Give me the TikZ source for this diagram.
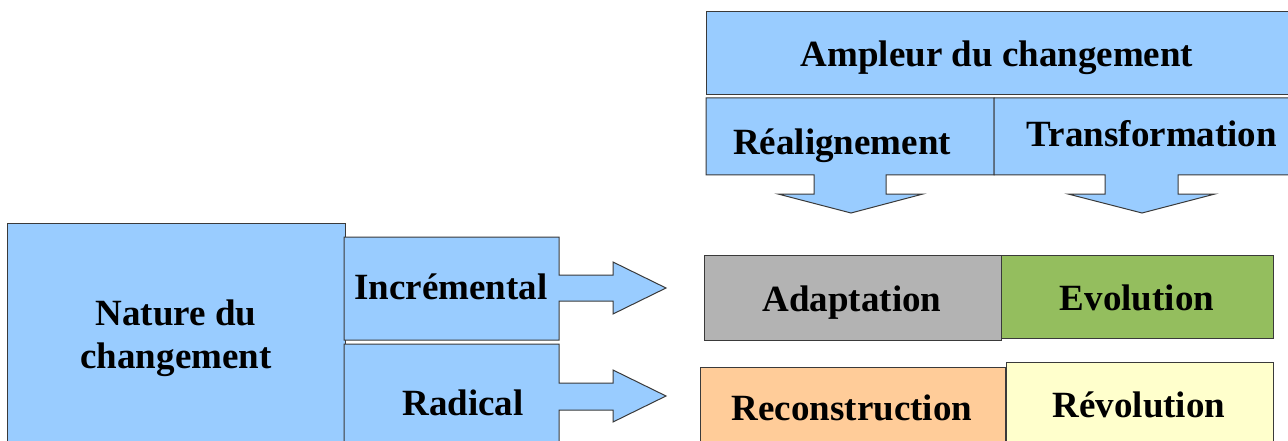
\documentclass[tikz,border=0pt]{standalone}
\usepackage{fontspec}
\setmainfont{Liberation Serif}
\definecolor{skyfill}{HTML}{99CCFF}
\definecolor{greyfill}{HTML}{B3B3B3}
\definecolor{greenfill}{HTML}{94BE5E}
\definecolor{orangefill}{HTML}{FFCC99}
\definecolor{yellowfill}{HTML}{FFFFCC}
\definecolor{edge}{HTML}{3A3A3A}
\begin{document}
\begin{tikzpicture}[x=1pt,y=-1pt,
  panel/.style={draw=edge,line width=1pt},
  label/.style={inner sep=0pt,anchor=base,font=\fontsize{37}{43}\selectfont\bfseries}]
\useasboundingbox (0,0) rectangle (1288,441);

% Nature du changement
\draw[panel,fill=skyfill] (7,223) rectangle (345,460);
\node[label] (natA) at (176,325) {Nature du};
\node[label] (natB) at (176,368) {changement};

% Incrémental callout pointing right
\draw[panel,fill=skyfill] (344,237) -- (559,237) -- (559,275) -- (613,275) -- (613,262)
  -- (666,288) -- (613,314) -- (613,301) -- (559,301) -- (559,340) -- (344,340) -- cycle;
\node[label] (incr) at (451,299) {Incrémental};

% Radical callout pointing right
\draw[panel,fill=skyfill] (344,460) -- (344,344) -- (559,344) -- (559,383) -- (613,383) -- (613,370)
  -- (666,396) -- (613,422) -- (613,410) -- (559,410) -- (559,460);
\node[label] (rad) at (463,415) {Radical};

% Ampleur du changement
\draw[panel,fill=skyfill] (706,12) rectangle (1300,95);
\node[label] (ampl) at (997,67) {Ampleur du changement};

% Réalignement callout pointing down
\draw[panel,fill=skyfill] (706,98) -- (994,98) -- (994,175) -- (886,175) -- (886,194) -- (923,194)
  -- (851,213) -- (778,194) -- (814,194) -- (814,175) -- (706,175) -- cycle;
\node[label] (real) at (842,154) {Réalignement};

% Transformation callout pointing down
\draw[panel,fill=skyfill] (1300,98) -- (994,98) -- (994,175) -- (1105,175) -- (1105,194) -- (1068,194)
  -- (1142,213) -- (1215,194) -- (1178,194) -- (1178,175) -- (1300,175);
\node[label] (trans) at (1152,147) {Transformation};

% Matrix of change types
\node[panel,fill=greyfill,minimum width=297pt,minimum height=85pt,anchor=north west,inner sep=0pt]
  (adapt) at (704,255) {};
\node[label] at (852,311) {Adaptation};
\node[panel,fill=greenfill,minimum width=272pt,minimum height=83pt,anchor=north west,inner sep=0pt]
  (evol) at (1001,255) {};
\node[label] at (1137,310) {Evolution};
\node[panel,fill=orangefill,minimum width=305pt,minimum height=90pt,anchor=north west,inner sep=0pt]
  (recon) at (700,367) {};
\node[label] at (852,420) {Reconstruction};
\node[panel,fill=yellowfill,minimum width=267pt,minimum height=95pt,anchor=north west,inner sep=0pt]
  (revol) at (1006,362) {};
\node[label] at (1139,417) {Révolution};
\end{tikzpicture}
\end{document}
